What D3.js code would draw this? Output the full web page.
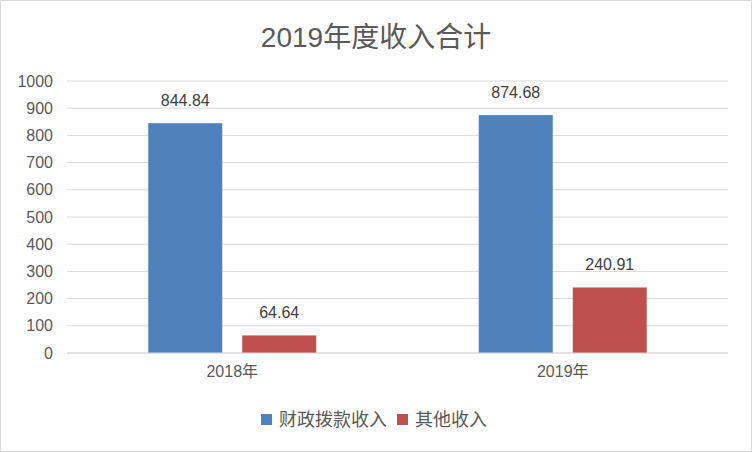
<!DOCTYPE html>
<html>
<head>
<meta charset="utf-8">
<script src="https://cdn.jsdelivr.net/npm/d3@7"></script>
<style>
  body { margin: 0; background: #fff; }
  svg { display: block; font-family: "Liberation Sans", "Noto Sans CJK SC", sans-serif; }
</style>
</head>
<body>
<div id="chart"></div>
<script>
const categories = ['2018年', '2019年'];
const seriesNames = ['财政拨款收入', '其他收入'];
const fiscalIncome = [844.84, 874.68];
const otherIncome = [64.64, 240.91];
const yTicks = [0, 100, 200, 300, 400, 500, 600, 700, 800, 900, 1000];
const colors = ['#4f81bd', '#c0504d'];

const W = 752, H = 452;
const margin = { top: 81, right: 24, bottom: 99, left: 67 };
const width = W - margin.left - margin.right;
const height = H - margin.top - margin.bottom;

const svg = d3.select('#chart').append('svg')
    .attr('width', W)
    .attr('height', H);

// outer frame
svg.append('rect')
    .attr('x', 0.5).attr('y', 0.5)
    .attr('width', W - 1).attr('height', H - 1)
    .attr('fill', '#fff')
    .attr('stroke', '#d9d9d9');

svg.append('text')
    .attr('x', W / 2)
    .attr('y', 47)
    .attr('text-anchor', 'middle')
    .attr('fill', '#595959')
    .style('font-size', '28px')
    .text('2019年度收入合计');

const g = svg.append('g')
    .attr('transform', 'translate(' + margin.left + ',' + margin.top + ')');

const x0 = d3.scaleBand()
    .domain(categories)
    .range([0, width]);

const groupW = 168;
const x1 = d3.scaleBand()
    .domain(seriesNames)
    .range([0, groupW])
    .paddingInner(20 / 94);

const y = d3.scaleLinear()
    .domain([0, 1000])
    .range([height, 0]);

// gridlines
g.selectAll('.grid')
    .data(yTicks)
    .enter().append('line')
    .attr('class', 'grid')
    .attr('x1', 0).attr('x2', width)
    .attr('y1', d => y(d)).attr('y2', d => y(d))
    .attr('stroke', '#d9d9d9')
    .attr('stroke-width', 1);

// y axis labels
const yAxis = g.append('g')
    .call(d3.axisLeft(y).tickValues(yTicks).tickFormat(d3.format('d')).tickSize(0).tickPadding(14));
yAxis.select('.domain').remove();
yAxis.selectAll('text')
    .attr('fill', '#595959')
    .style('font-size', '16px')
    .style('font-family', '"Liberation Sans", sans-serif');

const rows = categories.map((c, i) => ({
    cat: c,
    values: [
        { name: seriesNames[0], value: fiscalIncome[i] },
        { name: seriesNames[1], value: otherIncome[i] }
    ]
}));

const groups = g.selectAll('.group')
    .data(rows)
    .enter().append('g')
    .attr('class', 'group')
    .attr('transform', d => 'translate(' + (x0(d.cat) + (x0.bandwidth() - groupW) / 2) + ',0)');

groups.selectAll('rect')
    .data(d => d.values)
    .enter().append('rect')
    .attr('x', d => x1(d.name))
    .attr('width', x1.bandwidth())
    .attr('y', d => y(d.value))
    .attr('height', d => height - y(d.value))
    .attr('fill', (d, i) => colors[i]);

groups.selectAll('.label')
    .data(d => d.values)
    .enter().append('text')
    .attr('class', 'label')
    .attr('x', d => x1(d.name) + x1.bandwidth() / 2)
    .attr('y', d => y(d.value) - 17)
    .attr('text-anchor', 'middle')
    .attr('fill', '#404040')
    .style('font-size', '16px')
    .text(d => d.value.toFixed(2));

// baseline axis
g.append('line')
    .attr('x1', 0).attr('x2', width)
    .attr('y1', height).attr('y2', height)
    .attr('stroke', '#d9d9d9');

const xAxis = g.append('g')
    .attr('transform', 'translate(0,' + height + ')')
    .call(d3.axisBottom(x0).tickSize(0).tickPadding(13));
xAxis.select('.domain').remove();
xAxis.selectAll('text')
    .attr('fill', '#595959')
    .style('font-size', '16px')
    .style('font-family', '"Liberation Sans", "Noto Sans CJK SC", sans-serif');

// legend
const legend = svg.append('g').attr('transform', 'translate(261,420)');
const legendItems = [
    { name: seriesNames[0], color: colors[0], x: 0 },
    { name: seriesNames[1], color: colors[1], x: 136 }
];
const li = legend.selectAll('g')
    .data(legendItems)
    .enter().append('g')
    .attr('transform', d => 'translate(' + d.x + ',0)');
li.append('rect')
    .attr('x', 0).attr('y', -6)
    .attr('width', 11).attr('height', 11)
    .attr('fill', d => d.color);
li.append('text')
    .attr('x', 18)
    .attr('y', 0)
    .attr('dy', '0.35em')
    .attr('fill', '#595959')
    .style('font-size', '18px')
    .text(d => d.name);
</script>
</body>
</html>
